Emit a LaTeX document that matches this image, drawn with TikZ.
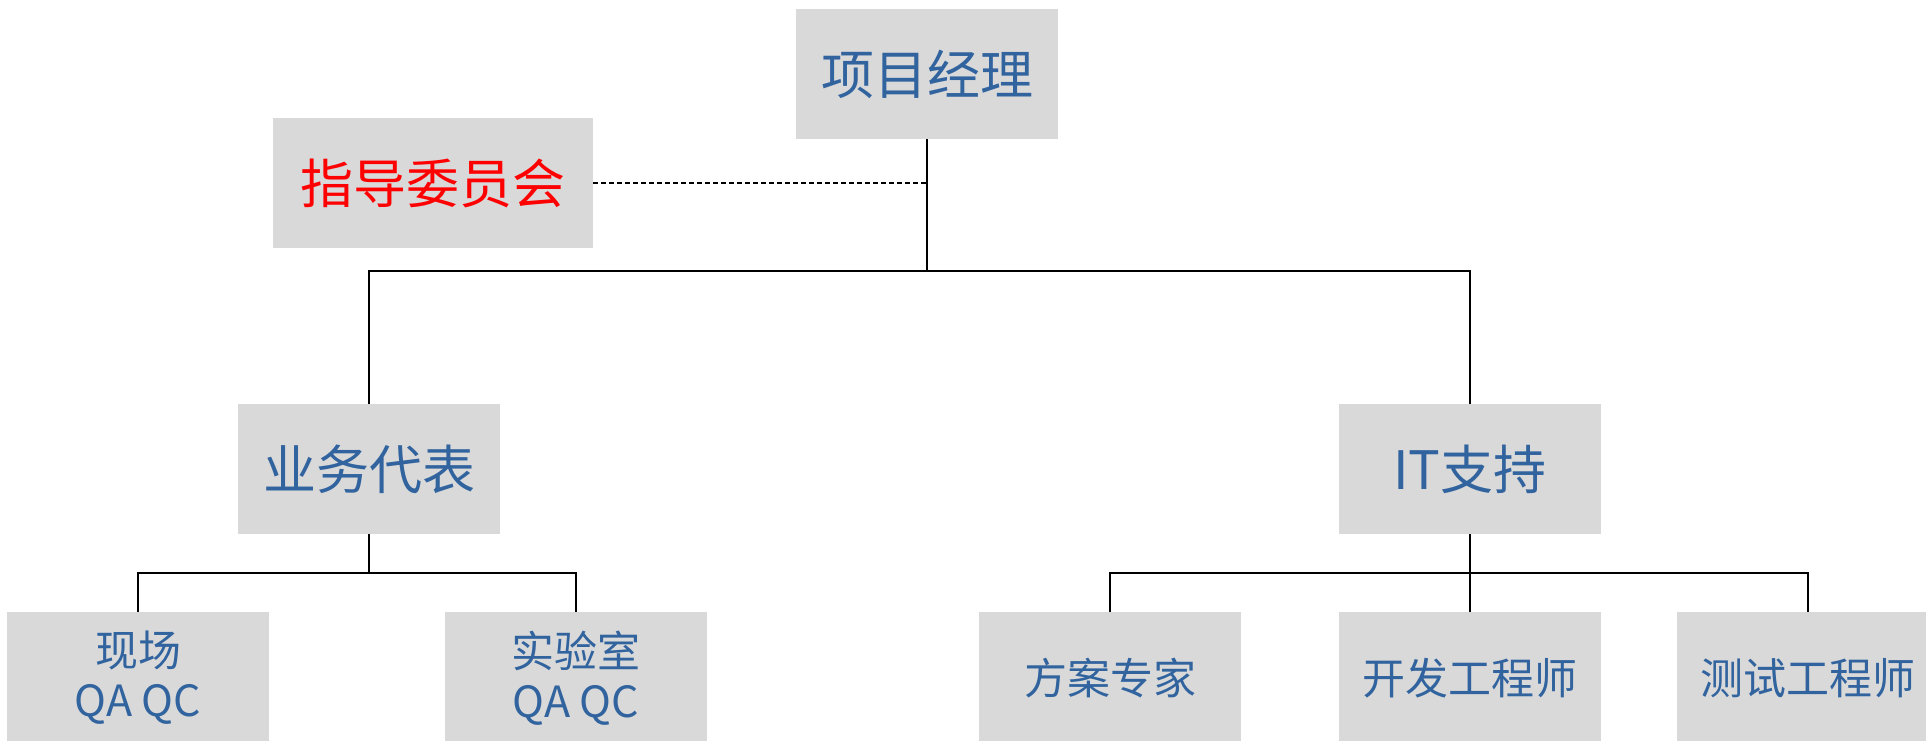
\documentclass[tikz,border=0pt]{standalone}
\usepackage{fontspec}
\setmainfont{Noto Sans CJK SC}
\definecolor{boxgray}{RGB}{217,217,217}
\definecolor{txtblue}{RGB}{49,99,158}
\definecolor{txtred}{RGB}{255,0,0}
\begin{document}
\begin{tikzpicture}[x=1pt,y=-1pt,
  orgbox/.style={fill=boxgray, draw=none, inner sep=0pt, minimum width=262pt, minimum height=130pt, text=txtblue, align=center, font=\fontsize{53}{60}\selectfont},
  leafbox/.style={orgbox, minimum height=132pt, font=\fontsize{43}{50}\selectfont},
  link/.style={draw=black, line width=1.8pt},
  dashlink/.style={draw=black, line width=1.6pt, dash pattern=on 5pt off 3pt}]
\clip (0,0) rectangle (1926,740);
\fill[white] (0,0) rectangle (1926,740);
\node[orgbox] (pm) at (927,74) {项目经理};
\node[orgbox, minimum width=320pt, text=txtred] (sc) at (433,183) {指导委员会};
\node[orgbox] (biz) at (369,469) {业务代表};
\node[orgbox] (it) at (1470,469) {IT支持};
\node[leafbox] (c1) at (138,678) {现场\\QA QC};
\node[leafbox] (c2) at (576,678) {实验室\\QA QC};
\node[leafbox] (c3) at (1110,678) {方案专家};
\node[leafbox] (c4) at (1470,678) {开发工程师};
\node[leafbox] (c5) at (1808,678) {测试工程师};
\coordinate (j1) at (927,271);
\coordinate (j2) at (369,573);
\coordinate (j3) at (1470,573);
\draw[link] (pm.south) -- (j1);
\draw[link] (biz.north) -- (biz.north |- j1) -- (it.north |- j1) -- (it.north);
\draw[dashlink] (sc.east) -- (sc.east -| pm.south);
\draw[link] (biz.south) -- (j2);
\draw[link] (c1.north) -- (c1.north |- j2) -- (c2.north |- j2) -- (c2.north);
\draw[link] (it.south) -- (j3);
\draw[link] (c3.north) -- (c3.north |- j3) -- (c5.north |- j3) -- (c5.north);
\draw[link] (j3) -- (c4.north);
\end{tikzpicture}
\end{document}
